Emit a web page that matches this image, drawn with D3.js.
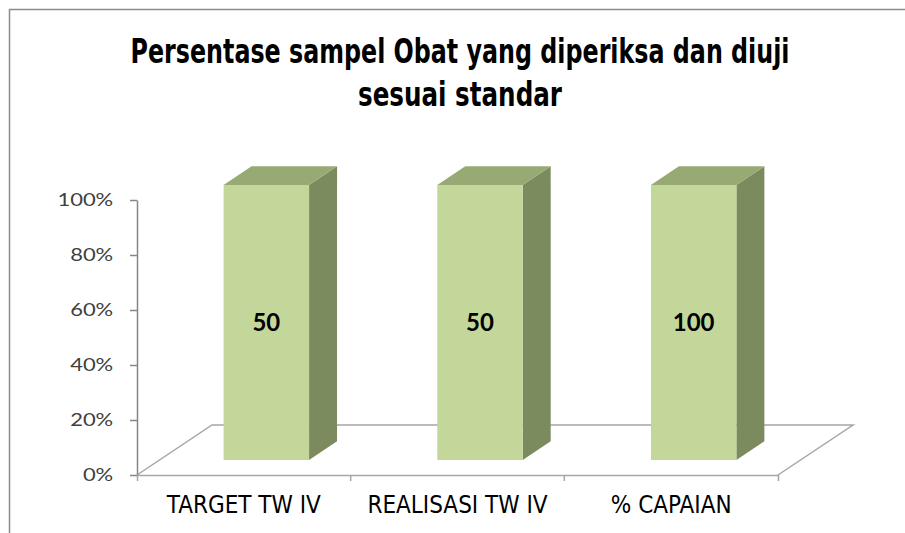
<!DOCTYPE html>
<html>
<head>
<meta charset="utf-8">
<script src="https://cdn.jsdelivr.net/npm/d3@7"></script>
<style>
  body { margin: 0; background: #fff; }
</style>
</head>
<body>
<script>
var categories = ["TARGET TW IV", "REALISASI TW IV", "% CAPAIAN"];
var values = [50, 50, 100];
var yTicks = [0, 0.2, 0.4, 0.6, 0.8, 1];
var titleLines = ["Persentase sampel Obat yang diperiksa dan diuji", "sesuai standar"];

var width = 905;
var height = 533;

var svg = d3.select("body")
    .append("svg")
    .attr("width", width)
    .attr("height", height);

// chart frame
svg.append("rect")
    .attr("x", 9.5)
    .attr("y", 9.5)
    .attr("width", width + 10)
    .attr("height", height + 10)
    .attr("fill", "#fff")
    .attr("stroke", "#8c8c8c")
    .attr("stroke-width", 1.5);

// plot geometry (front plane + oblique depth)
var left = 137, right = 778, base = 475, top100 = 200;
var depthX = 75, depthY = 50;
var barFront = 0.3, barDepth = 0.373;

var x = d3.scaleBand()
    .domain(categories)
    .range([left, right])
    .paddingInner(0.6)
    .paddingOuter(0.3);

var y = d3.scaleLinear()
    .domain([0, 1])
    .range([base, top100]);

// single series, 100% stacked
var rows = categories.map(function(c, i) { return { cat: c, v: values[i] }; });
var stack = d3.stack()
    .keys(["v"])
    .offset(d3.stackOffsetExpand);
var series = stack(rows)[0];

// floor
var floor = svg.append("g").attr("class", "floor")
    .attr("fill", "none")
    .attr("stroke", "#a6a6a6")
    .attr("stroke-width", 1.5);

floor.append("path")
    .attr("d", d3.line()([
        [left, base],
        [left + depthX, base - depthY],
        [right + depthX, base - depthY],
        [right, base]
    ]));

// bars
var bars = svg.append("g").attr("class", "bars")
    .selectAll("g")
    .data(series)
    .enter().append("g");

function geom(d) {
    var shiftX = depthX * barFront, shiftY = depthY * barFront;
    var x0 = x(d.data.cat) + shiftX;
    var x1 = x0 + x.bandwidth();
    var yb = y(d[0]) - shiftY;
    var yt = y(d[1]) - shiftY;
    var dx = depthX * barDepth, dy = depthY * barDepth;
    return { x0: x0, x1: x1, yb: yb, yt: yt, dx: dx, dy: dy };
}

bars.append("path")
    .attr("fill", "#7b8b5e")
    .attr("d", function(d) {
        var g = geom(d);
        return d3.line()([[g.x1, g.yt], [g.x1 + g.dx, g.yt - g.dy], [g.x1 + g.dx, g.yb - g.dy], [g.x1, g.yb]]) + "Z";
    });

bars.append("path")
    .attr("fill", "#98aa73")
    .attr("d", function(d) {
        var g = geom(d);
        return d3.line()([[g.x0, g.yt], [g.x1, g.yt], [g.x1 + g.dx, g.yt - g.dy], [g.x0 + g.dx, g.yt - g.dy]]) + "Z";
    });

bars.append("rect")
    .attr("fill", "#c4d79b")
    .attr("x", function(d) { return geom(d).x0; })
    .attr("y", function(d) { return geom(d).yt; })
    .attr("width", x.bandwidth())
    .attr("height", function(d) { var g = geom(d); return g.yb - g.yt; });

bars.append("text")
    .attr("x", function(d) { var g = geom(d); return (g.x0 + g.x1) / 2; })
    .attr("y", function(d) { var g = geom(d); return (g.yt + g.yb) / 2; })
    .attr("dy", "0.36em")
    .attr("text-anchor", "middle")
    .style("font-family", "Lato, 'Open Sans', sans-serif")
    .style("font-weight", "bold")
    .style("font-size", "24px")
    .attr("fill", "#000")
    .text(function(d) { return d.data.v; });

// y axis
var yAxis = svg.append("g")
    .attr("transform", "translate(" + left + ",0)")
    .call(d3.axisLeft(y)
        .tickValues(yTicks)
        .tickFormat(d3.format(".0%"))
        .tickSizeInner(7)
        .tickSizeOuter(0)
        .tickPadding(12.5));

yAxis.select(".domain").attr("stroke", "#868686").attr("stroke-width", 1.5);
yAxis.selectAll(".tick line").attr("stroke", "#868686").attr("stroke-width", 1.5);
yAxis.selectAll(".tick text")
    .style("font-family", "Lato, 'Open Sans', sans-serif")
    .style("font-size", "18px")
    .attr("transform", "scale(1.22,1)")
    .attr("fill", "#404040");

// x axis
var xAxis = svg.append("g")
    .attr("transform", "translate(0," + base + ")")
    .call(d3.axisBottom(x)
        .tickSizeInner(0)
        .tickSizeOuter(6)
        .tickPadding(21));

xAxis.select(".domain").attr("stroke", "#a6a6a6").attr("stroke-width", 1.5);
xAxis.selectAll(".tick text")
    .style("font-family", "'Liberation Sans Narrow', 'DejaVu Sans Condensed', sans-serif")
    .style("font-size", "24px")
    .attr("fill", "#000");

// category boundary ticks
xAxis.selectAll(".sep")
    .data(categories.slice(1))
    .enter().append("line")
    .attr("class", "sep")
    .attr("x1", function(d) { return x(d) - x.step() * x.paddingInner() / 2; })
    .attr("x2", function(d) { return x(d) - x.step() * x.paddingInner() / 2; })
    .attr("y1", 0)
    .attr("y2", 6)
    .attr("stroke", "#a6a6a6")
    .attr("stroke-width", 1.5);

// title
svg.append("g")
    .selectAll("text")
    .data(titleLines)
    .enter().append("text")
    .attr("x", 460)
    .attr("y", function(d, i) { return 63 + i * 43; })
    .attr("text-anchor", "middle")
    .style("font-family", "'Liberation Sans Narrow', 'DejaVu Sans Condensed', sans-serif")
    .style("font-weight", "bold")
    .style("font-size", "33px")
    .attr("textLength", function(d, i) { return i === 0 ? 659 : 204; })
    .attr("lengthAdjust", "spacingAndGlyphs")
    .attr("fill", "#000")
    .text(function(d) { return d; });
</script>
</body>
</html>
